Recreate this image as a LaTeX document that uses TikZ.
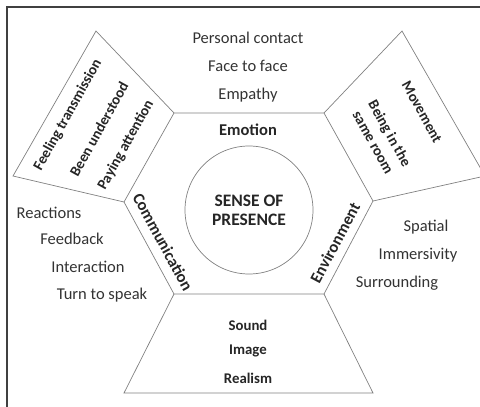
\documentclass[tikz,border=0pt]{standalone}
\usepackage{fontspec}
\setmainfont{Carlito}
\begin{document}
\begin{tikzpicture}[x=1pt,y=-1pt,
  shape line/.style={draw=black!50, line width=0.7pt, line join=miter},
  txt/.style={text=black!80, font=\fontsize{16.5}{19}\selectfont, inner sep=0pt},
  btxt/.style={text=black!85, font=\fontsize{16.5}{19}\selectfont\bfseries, inner sep=0pt},
  stxt/.style={text=black!85, font=\fontsize{14.8}{17}\selectfont\bfseries, inner sep=0pt},
]
\useasboundingbox (0,0) rectangle (480,407);
% frame
\draw[black!75, line width=1.4pt] (7,407) -- (7,7) -- (480,7);
% hexagon corners
\coordinate (htl) at (174,113);
\coordinate (htr) at (324,113);
\coordinate (hr)  at (373,201);
\coordinate (hbr) at (324,294);
\coordinate (hbl) at (174,294);
\coordinate (hl)  at (124,202);
% outer corners
\coordinate (lt) at (96,31);
\coordinate (lo) at (13,176);
\coordinate (rt) at (402,31);
\coordinate (ro) at (485,176);
\coordinate (bl) at (124,393);
\coordinate (br) at (373,393);
% shapes
\draw[shape line] (htl) -- (htr) -- (hr) -- (hbr) -- (hbl) -- (hl) -- cycle;
\draw[shape line] (htl) -- (lt) -- (lo) -- (hl);
\draw[shape line] (htr) -- (rt) -- (ro) -- (hr);
\draw[shape line] (hbl) -- (bl) -- (br) -- (hbr);
\node[shape line, circle, minimum size=128pt, inner sep=0pt] (core) at (249,210) {};
% center texts
\node[btxt, font=\fontsize{17.5}{19}\selectfont\bfseries, align=center] (sense) at (249,210) {SENSE OF\\PRESENCE};
\node[btxt] (emotion) at (248,130) {Emotion};
\node[btxt, rotate=-61.5] (comm) at (163,242) {Communication};
\node[btxt, rotate=62] (env) at (335,243) {Environment};
% top texts
\node[txt] (pc) at (248,38) {Personal contact};
\node[txt] (ff) at (248,66) {Face to face};
\node[txt] (emp) at (248,95) {Empathy};
% left trapezoid
\node[stxt, rotate=61] (feel) at (68,115) {Feeling transmission};
\node[stxt, rotate=61] (been) at (99,129) {Been understood};
\node[stxt, rotate=61] (pay) at (126,145) {Paying attention};
% right trapezoid
\node[stxt, rotate=-61] (move) at (422,112) {Movement};
\node[stxt, rotate=-61] (being) at (389,134) {Being in the};
\node[stxt, rotate=-61] (room) at (372,143) {same room};
% left texts
\node[txt] (react) at (49,213) {Reactions};
\node[txt] (feed) at (72,239) {Feedback};
\node[txt] (inter) at (88,267) {Interaction};
\node[txt] (turn) at (102,295) {Turn to speak};
% right texts
\node[txt] (spat) at (426,227) {Spatial};
\node[txt] (imm) at (418,255) {Immersivity};
\node[txt] (surr) at (397,283) {Surrounding};
% bottom texts
\node[stxt] (sound) at (248,325) {Sound};
\node[stxt] (image) at (248,351) {Image};
\node[stxt] (real) at (248,378) {Realism};
\end{tikzpicture}
\end{document}
